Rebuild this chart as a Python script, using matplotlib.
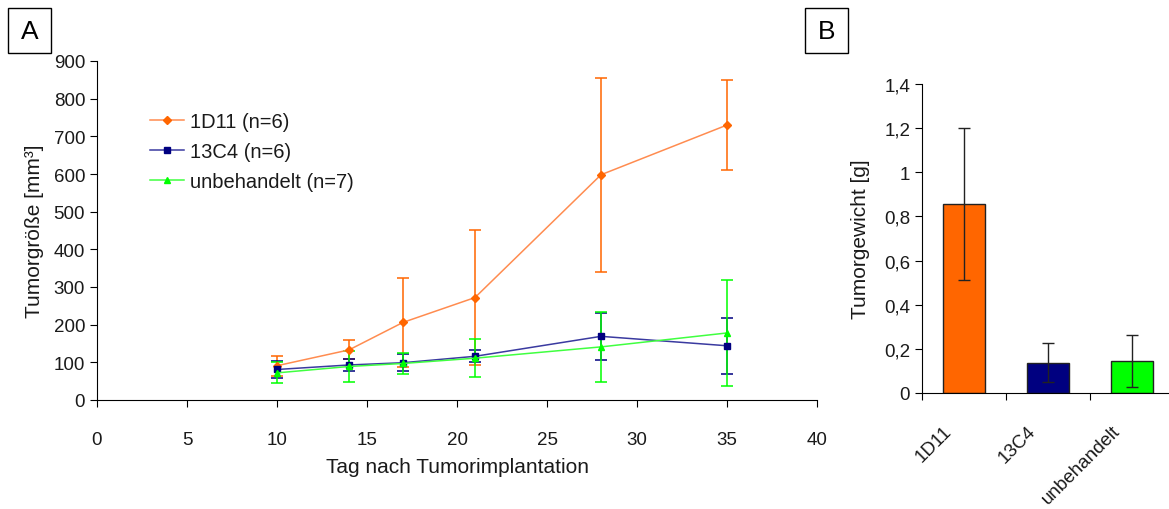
import matplotlib
matplotlib.use("Agg")
import matplotlib.pyplot as plt
from matplotlib.lines import Line2D
from matplotlib.patches import Rectangle
from matplotlib.ticker import FuncFormatter

plt.rcParams["font.family"] = ["Liberation Sans", "DejaVu Sans"]

# Panel A: tumour volume over time
days = [10, 14, 17, 21, 28, 35]
vol_1d11 = [91, 133, 206, 272, 598, 730]
err_1d11 = [27, 25, 118, 180, 258, 120]
vol_13c4 = [81, 93, 99, 116, 169, 144]
err_13c4 = [22, 17, 22, 16, 62, 74]
vol_unb = [72, 89, 97, 111, 141, 178]
err_unb = [28, 40, 29, 50, 93, 140]

# Panel B: tumour weight
groups = ["1D11", "13C4", "unbehandelt"]
weight = [0.855, 0.138, 0.144]
weight_err = [0.345, 0.088, 0.118]

ORANGE = "#FF6600"
NAVY = "#000080"
GREEN = "#00FF00"
TXT = "#1a1a1a"
TICK_FS = 13.5
LABEL_FS = 15

fig = plt.figure(figsize=(11.69, 5.10), dpi=100)

ax = fig.add_axes([97 / 1169, 109 / 510, 720 / 1169, 339 / 510])
series = [
    (vol_1d11, err_1d11, ORANGE, "#FF8C50", "D", 4, "1D11 (n=6)"),
    (vol_13c4, err_13c4, NAVY, "#3a3aa0", "s", 5, "13C4 (n=6)"),
    (vol_unb, err_unb, GREEN, "#40FF40", "^", 5, "unbehandelt (n=7)"),
]
handles = []
for vals, errs, col, lcol, mk, ms, lab in series:
    ax.errorbar(days, vals, yerr=errs, color=lcol, ecolor=col, elinewidth=1.1,
                capsize=4, capthick=1.1, lw=1.1, marker=mk, ms=ms,
                mfc=col, mec=col)
    handles.append(Line2D([], [], color=lcol, lw=1.1, marker=mk, ms=ms,
                          mfc=col, mec=col, label=lab))

ax.set_xlim(0, 40)
ax.set_ylim(0, 900)
ax.set_xticks(range(0, 41, 5))
ax.set_yticks(range(0, 901, 100))
for s in ["top", "right"]:
    ax.spines[s].set_visible(False)
ax.tick_params(direction="out", length=5, labelsize=TICK_FS, colors="black",
               labelcolor=TXT)
ax.tick_params(axis="x", pad=17)
ax.set_xlabel("Tag nach Tumorimplantation", fontsize=LABEL_FS, color=TXT, labelpad=7)
ax.set_ylabel("Tumorgröße [mm³]", fontsize=LABEL_FS, color=TXT, labelpad=7)
leg = ax.legend(handles=handles, loc="upper left", bbox_to_anchor=(0.062, 0.874),
                frameon=False, fontsize=14.5, handlelength=1.7,
                labelspacing=0.55, handletextpad=0.3, borderaxespad=0)
for t in leg.get_texts():
    t.set_color(TXT)

# Panel B
bx = fig.add_axes([922 / 1169, 116 / 510, 252 / 1169, 309 / 510])
pos = [0.5, 1.5, 2.5]
bx.bar(pos, weight, width=0.5, color=[ORANGE, NAVY, GREEN],
       edgecolor="#222222", lw=1)
bx.errorbar(pos, weight, yerr=weight_err, fmt="none", ecolor="#222222",
            elinewidth=1, capsize=4, capthick=1)
bx.set_xlim(0, 3)
bx.set_ylim(0, 1.4)
bx.set_yticks([0, 0.2, 0.4, 0.6, 0.8, 1.0, 1.2, 1.4])
bx.yaxis.set_major_formatter(
    FuncFormatter(lambda v, p: "0" if v == 0 else ("1" if v == 1 else f"{v:.1f}".replace(".", ","))))
bx.set_xticks([0, 1, 2, 3])
bx.set_xticklabels([])
bx.set_xticks([p - 0.25 for p in pos], minor=True)
bx.set_xticklabels(groups, minor=True, rotation=45, ha="right",
                   rotation_mode="anchor", fontsize=TICK_FS, color=TXT)
bx.tick_params(axis="x", which="minor", length=0, pad=21)
for s in ["top", "right"]:
    bx.spines[s].set_visible(False)
bx.tick_params(which="major", direction="out", length=5, labelsize=TICK_FS,
               labelcolor=TXT)
bx.set_ylabel("Tumorgewicht [g]", fontsize=LABEL_FS, color=TXT, labelpad=10)

# panel letters in boxes
for x0, letter in [(8, "A"), (805, "B")]:
    fig.patches.append(Rectangle((x0 / 1169, 1 - 54 / 510), 43 / 1169, 45 / 510,
                                 transform=fig.transFigure, fc="white",
                                 ec="black", lw=1))
    fig.text((x0 + 21.5) / 1169, 1 - 32 / 510, letter, fontsize=19,
             ha="center", va="center", color="black")

fig.savefig("out.png", dpi=100)
